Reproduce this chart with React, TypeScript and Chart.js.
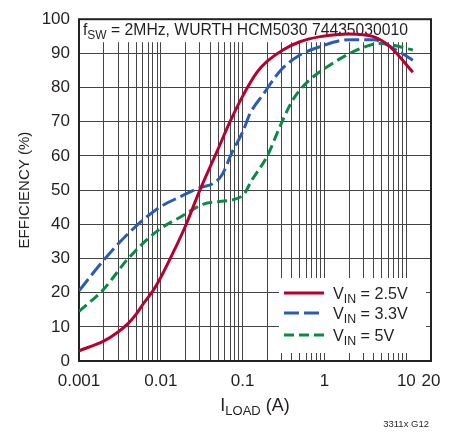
import React, { useEffect, useRef } from "react";
import { Chart, registerables } from "chart.js";

Chart.register(...registerables);

// ---- data ----
const loadRed = [0.001, 0.002, 0.003, 0.004, 0.005, 0.006, 0.008, 0.01, 0.015, 0.02, 0.03, 0.05, 0.07, 0.1, 0.15, 0.2, 0.31, 0.5, 0.89, 2, 3.95, 6.3, 12];
const effRed = [3, 5.8, 8.5, 11, 13.7, 16.5, 20.5, 24.5, 33, 39.5, 50, 62, 70, 77.5, 84.5, 87.7, 91, 93.4, 94.9, 95.7, 94.9, 92, 84.5];

const loadBlue = [0.001, 0.002, 0.004, 0.009, 0.017, 0.03, 0.044, 0.056, 0.074, 0.1, 0.123, 0.178, 0.29, 0.5, 0.89, 2, 3.95, 6.9, 12];
const effBlue = [20.5, 29.5, 37.3, 44.5, 48, 50.7, 52, 54.5, 61, 67, 72.4, 78, 85, 89.5, 92, 94, 94, 91.5, 88];

const loadGreen = [0.001, 0.002, 0.004, 0.009, 0.017, 0.037, 0.098, 0.13, 0.2, 0.29, 0.41, 0.61, 1.07, 2.5, 4.8, 12];
const effGreen = [14.5, 21, 30, 38, 42, 46.2, 48.2, 53, 60, 69, 76.4, 81.5, 86, 91, 92.9, 91];

const seriesLabels = ["2.5V", "3.3V", "5V"];
const xGridValues = [
  0.001, 0.002, 0.003, 0.004, 0.005, 0.006, 0.007, 0.008, 0.009,
  0.01, 0.02, 0.03, 0.04, 0.05, 0.06, 0.07, 0.08, 0.09,
  0.1, 0.2, 0.3, 0.4, 0.5, 0.6, 0.7, 0.8, 0.9,
  1, 2, 3, 4, 5, 6, 7, 8, 9,
  10, 20,
];
const xLabelValues = [0.001, 0.01, 0.1, 1, 10, 20];
const xLabelTexts = ["0.001", "0.01", "0.1", "1", "10", "20"];

const FONT = "'Liberation Sans', Arial, sans-serif";
const TEXT = "#231f20";
const RED = "#b8002e";
const BLUE = "#2b5cb5";
const GREEN = "#0a8a45";
const colors = [RED, BLUE, GREEN];
const dashes: number[][] = [[], [15, 5], [10, 5]];

type Part = { t: string; size: number; dy: number };
function drawParts(ctx: CanvasRenderingContext2D, parts: Part[], x: number, y: number, align: "left" | "center", sx = 1) {
  let total = 0;
  for (const p of parts) {
    ctx.font = `${p.size}px ${FONT}`;
    total += ctx.measureText(p.t).width;
  }
  ctx.save();
  const startX = align === "center" ? x - (total * sx) / 2 : x;
  ctx.translate(startX, y);
  ctx.scale(sx, 1);
  ctx.textAlign = "left";
  let cx = 0;
  for (const p of parts) {
    ctx.font = `${p.size}px ${FONT}`;
    ctx.fillText(p.t, cx, p.dy);
    cx += ctx.measureText(p.t).width;
  }
  ctx.restore();
  return total;
}

function widthOf(ctx: CanvasRenderingContext2D, parts: Part[]) {
  let total = 0;
  for (const p of parts) {
    ctx.font = `${p.size}px ${FONT}`;
    total += ctx.measureText(p.t).width;
  }
  return total;
}

const decorPlugin = {
  id: "decor",
  beforeDatasetsDraw(chart: any) {
    const { ctx, chartArea } = chart;
    const { left, right, top, bottom } = chartArea;
    ctx.save();
    // title band (covers grid)
    ctx.fillStyle = "#fff";
    ctx.fillRect(left, top, right - left, 23);
    // legend box (covers grid)
    const lgL = right - 152, lgR = right - 5, lgT = bottom - 83, lgB = bottom - 8;
    ctx.fillRect(lgL, lgT, lgR - lgL, lgB - lgT);

    // title text
    ctx.fillStyle = TEXT;
    ctx.textBaseline = "alphabetic";
    const titleParts: Part[] = [
      { t: "f", size: 17, dy: 0 },
      { t: "SW", size: 13, dy: 4 },
      { t: " = 2MHz, WURTH HCM5030 74435030010", size: 17, dy: 0 },
    ];
    const tw = widthOf(ctx, titleParts);
    drawParts(ctx, titleParts, left + 4, top + 16, "left", 325 / tw);

    // legend
    const rows = [lgT + 15, lgT + 35, lgT + 57];
    for (let i = 0; i < 3; i++) {
      ctx.strokeStyle = colors[i];
      ctx.lineWidth = 3;
      ctx.setLineDash(dashes[i]);
      ctx.beginPath();
      ctx.moveTo(lgL + 5, rows[i]);
      ctx.lineTo(lgL + 45, rows[i]);
      ctx.stroke();
      ctx.setLineDash([]);
      ctx.fillStyle = TEXT;
      ctx.textBaseline = "alphabetic";
      drawParts(ctx, [
        { t: "V", size: 17, dy: 0 },
        { t: "IN", size: 13, dy: 4 },
        { t: " = " + seriesLabels[i], size: 17, dy: 0 },
      ], lgL + 54, rows[i] + 6, "left", 0.95);
    }
    // frame
    ctx.strokeStyle = "#222";
    ctx.lineWidth = 2;
    ctx.strokeRect(left, top, right - left, bottom - top);
    ctx.restore();
  },
  afterDraw(chart: any) {
    const { ctx, chartArea } = chart;
    const { left, right, top, bottom } = chartArea;
    ctx.save();
    ctx.fillStyle = TEXT;
    // y axis title
    ctx.save();
    ctx.translate(25, (top + bottom) / 2);
    ctx.rotate(-Math.PI / 2);
    ctx.font = `15px ${FONT}`;
    ctx.textAlign = "center";
    ctx.textBaseline = "middle";
    ctx.fillText("EFFICIENCY (%)", 0, 0);
    ctx.restore();
    // x axis title
    ctx.textBaseline = "alphabetic";
    drawParts(ctx, [
      { t: "I", size: 18, dy: 0 },
      { t: "LOAD", size: 13, dy: 4 },
      { t: " (A)", size: 18, dy: 0 },
    ], (left + right) / 2, bottom + 50, "center");
    // figure code
    ctx.font = `9.5px ${FONT}`;
    ctx.textAlign = "right";
    ctx.fillText("3311x G12", right - 2, bottom + 66);
    ctx.restore();
  },
};

export default function App() {
  const ref = useRef<HTMLCanvasElement | null>(null);
  useEffect(() => {
    document.body.style.margin = "0";
    const canvas = ref.current!;
    const mk = (xs: number[], ys: number[]) => xs.map((x, i) => ({ x, y: ys[i] }));
    const chart = new Chart(canvas, {
      type: "line",
      data: {
        datasets: [
          { label: seriesLabels[0], data: mk(loadRed, effRed), borderColor: RED, borderWidth: 3, pointRadius: 0, fill: false, cubicInterpolationMode: "monotone" },
          { label: seriesLabels[1], data: mk(loadBlue, effBlue), borderColor: BLUE, borderWidth: 3, borderDash: dashes[1], pointRadius: 0, fill: false, cubicInterpolationMode: "monotone" },
          { label: seriesLabels[2], data: mk(loadGreen, effGreen), borderColor: GREEN, borderWidth: 3, borderDash: dashes[2], pointRadius: 0, fill: false, cubicInterpolationMode: "monotone" },
        ],
      } as any,
      options: {
        responsive: false,
        animation: false,
        devicePixelRatio: 1,
        events: [],
        layout: { padding: { top: 10, right: 20, left: 0, bottom: 0 } },
        plugins: { legend: { display: false }, tooltip: { enabled: false } },
        scales: {
          x: {
            type: "logarithmic",
            min: 0.001,
            max: 20,
            afterBuildTicks: (s: any) => {
              s.ticks = xGridValues.map((v) => ({ value: v }));
            },
            afterFit: (s: any) => {
              s.height = 72;
            },
            grid: { color: "#444", lineWidth: 1, drawTicks: false },
            border: { display: false },
            ticks: {
              autoSkip: false,
              maxRotation: 0,
              minRotation: 0,
              padding: 10,
              color: TEXT,
              font: { family: FONT, size: 17 },
              callback: (v: any) => {
                const val = Number(v);
                for (let i = 0; i < xLabelValues.length; i++) {
                  if (Math.abs(Math.log10(val) - Math.log10(xLabelValues[i])) < 1e-6) return xLabelTexts[i];
                }
                return "";
              },
            },
          },
          y: {
            min: 0,
            max: 100,
            afterFit: (s: any) => {
              s.width = 79;
            },
            grid: { color: "#444", lineWidth: 1, drawTicks: false },
            border: { display: false },
            ticks: { stepSize: 10, padding: 9, color: TEXT, font: { family: FONT, size: 17 } },
          },
        },
      } as any,
      plugins: [decorPlugin],
    });
    return () => chart.destroy();
  }, []);
  return (
    <div style={{ position: "absolute", left: 0, top: 0, width: 451, height: 433, background: "#fff" }}>
      <canvas ref={ref} width={451} height={433} style={{ display: "block" }} />
    </div>
  );
}
